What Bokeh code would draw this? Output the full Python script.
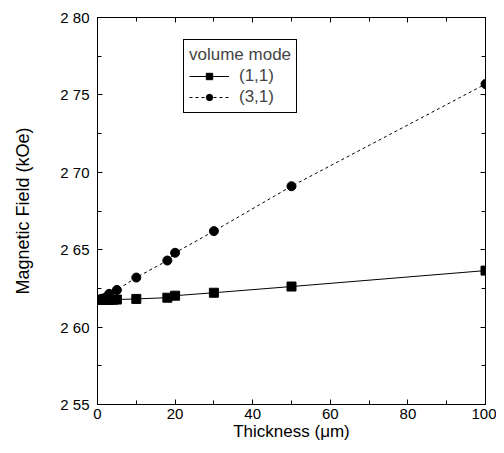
from bokeh.plotting import figure
from bokeh.models import (Range1d, LinearAxis, FixedTicker, CustomJSTickFormatter,
                          Legend, LegendItem, CustomLabelingPolicy)
from bokeh.embed import file_html
from bokeh.resources import INLINE

# Data
x11 = [0, 1, 2, 3, 4, 5, 10, 18, 20, 30, 50, 100]
y11 = [2.6175, 2.6175, 2.6175, 2.6176, 2.6177, 2.6178, 2.6182, 2.6190, 2.6203, 2.6222, 2.6262, 2.6365]
x31 = [0, 1, 2, 3, 5, 10, 18, 20, 30, 50, 100]
y31 = [2.6178, 2.6183, 2.6190, 2.6215, 2.6240, 2.6320, 2.6430, 2.6480, 2.6620, 2.6910, 2.7570]
x_ticks = [0, 20, 40, 60, 80, 100]
y_ticks = [2.55, 2.60, 2.65, 2.70, 2.75, 2.80]
label_11 = "(1,1)"
label_31 = "(3,1)"
legend_title = "volume mode"
x_title = "Thickness (\u03bcm)"
y_title = "Magnetic Field (kOe)"

FONT = "Liberation Sans"

p = figure(width=496, height=445, output_backend="svg", toolbar_location=None,
           x_range=Range1d(0, 100), y_range=Range1d(2.55, 2.80),
           min_border_left=97, min_border_right=11, min_border_top=17, min_border_bottom=41)
p.background_fill_color = "white"
p.border_fill_color = "white"
p.grid.visible = False
p.outline_line_color = "black"
p.outline_line_width = 1

fmt = CustomJSTickFormatter(code="return tick.toFixed(2).replace('.', ' ');")
blank = CustomJSTickFormatter(code="return '';")
no_labels = CustomLabelingPolicy(
    code="for (let i = 0; i < indices.size; i++) { indices.unset(i) } return indices")

def style(ax):
    ax.axis_line_color = "black"
    ax.axis_line_width = 1
    ax.major_tick_in = 5
    ax.major_tick_out = 0
    ax.minor_tick_in = 4
    ax.minor_tick_out = 0
    ax.major_tick_line_color = "black"
    ax.minor_tick_line_color = "black"
    ax.major_label_text_font = FONT
    ax.major_label_text_font_size = "15px"
    ax.major_label_text_color = "black"
    ax.axis_label_text_font = FONT
    ax.axis_label_text_font_size = "17px"
    ax.axis_label_text_font_style = "normal"
    ax.axis_label_text_color = "black"

xt = FixedTicker(ticks=x_ticks, minor_ticks=list(range(0, 101, 10)))
yt = FixedTicker(ticks=y_ticks, minor_ticks=[2.55 + 0.025 * i for i in range(11)])

p.xaxis.ticker = xt
p.yaxis.ticker = yt
p.yaxis.formatter = fmt
style(p.xaxis[0])
style(p.yaxis[0])
p.xaxis.axis_label = x_title
p.yaxis.axis_label = y_title
p.yaxis.axis_label_text_font_size = "18px"
p.xaxis.major_label_standoff = 4
p.xaxis.axis_label_standoff = 0
p.yaxis.major_label_standoff = 8
p.yaxis.axis_label_standoff = 24

top = LinearAxis(ticker=xt, formatter=blank, major_label_policy=no_labels)
style(top)
top.major_label_standoff = 0
p.add_layout(top, "above")
right = LinearAxis(ticker=yt, formatter=blank, major_label_policy=no_labels)
style(right)
right.major_label_standoff = 0
p.add_layout(right, "right")

l1 = p.line(x11, y11, line_color="black", line_width=1)
s1 = p.scatter(x11, y11, marker="square", size=9, fill_color="black", line_color="black")
l3 = p.line(x31, y31, line_color="black", line_width=1, line_dash="3 3")
s3 = p.scatter(x31, y31, marker="circle", size=9, fill_color="black", line_color="black")

legend = Legend(items=[LegendItem(label=label_11, renderers=[l1, s1]),
                       LegendItem(label=label_31, renderers=[l3, s3])],
                location=(86, 291), title=legend_title,
                title_text_font=FONT, title_text_font_size="17px", title_text_font_style="normal",
                label_text_font=FONT, label_text_font_size="17px",
                border_line_color="black", border_line_width=1, border_line_alpha=1,
                glyph_width=40, glyph_height=16, label_height=20, spacing=1, padding=5, margin=0,
                label_standoff=10, title_standoff=1, background_fill_alpha=1)
p.add_layout(legend, "center")

open("out.html", "w").write(file_html(p, INLINE))
